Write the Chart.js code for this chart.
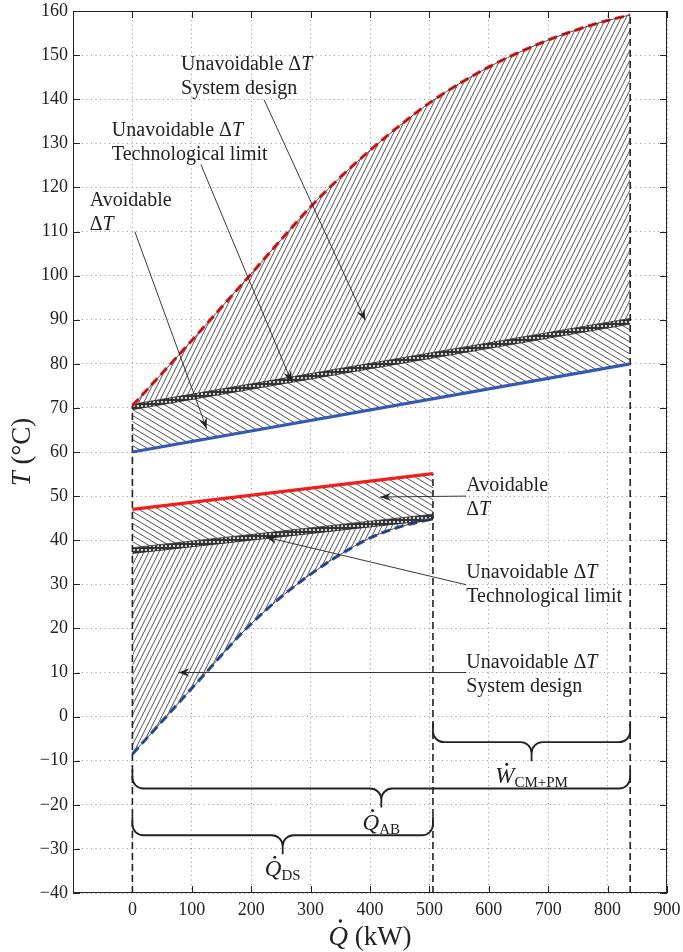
<!DOCTYPE html>
<html>
<head>
<meta charset="utf-8">
<script src="https://cdn.jsdelivr.net/npm/chart.js@4"></script>
<style>
  html, body { margin: 0; padding: 0; background: #fff; }
  #wrap { width: 683px; height: 952px; }
</style>
</head>
<body>
<div id="wrap"><canvas id="chart" width="683" height="952"></canvas></div>
<script>
// Hot stream (upper group): heat flow Q in kW, temperature in °C
const hotQ = [0, 80, 140, 200, 250, 300, 350, 400, 450, 505, 600, 700, 790, 838];
const hotSupplyT = [70.5, 82.3, 91.3, 100.4, 108.1, 115.6, 122.3, 128.4, 134, 139.6, 147.3, 153.4, 157.5, 159.1];
const hotEndQ = [0, 838];
const hotLimitUpperT = [70.8, 90.3];
const hotLimitLowerT = [69.6, 89.0];
const hotReturnT = [60, 80];

// Cold stream (lower group)
const coldEndQ = [0, 506];
const coldSupplyT = [47, 55.1];
const coldLimitUpperT = [38.3, 45.9];
const coldLimitLowerT = [37.0, 44.6];
const coldQ = [0, 57, 124, 192, 277, 388, 440, 506];
const coldReturnT = [-8.5, 0, 10, 20, 30, 39.7, 42.6, 44.9];

// vertical boundaries: Q = 0, Q_DS, Q_AB
const boundaryQ = [0, 506, 838];
const boundaryTopT = [70.5, 55.1, 159.1];

// axes
const xTicks = [0, 100, 200, 300, 400, 500, 600, 700, 800, 900];
const yTicks = [-40, -30, -20, -10, 0, 10, 20, 30, 40, 50, 60, 70, 80, 90, 100, 110, 120, 130, 140, 150, 160];

// braces under the curves: [from, to] in kW, top edge in °C, label
const braceSpans = [[506, 838], [0, 838], [0, 506]];
const braceTopT = [-1.5, -12, -22.6];
const braceLabels = [['W', 'CM+PM'], ['Q', 'AB'], ['Q', 'DS']];

// callouts: text lines (parts are [text, italic]), text anchor, arrow start and tip
const notes = [
  { lines: [[['Unavoidable Δ', 0], ['T', 1]], [['System design', 0]]], at: [82, 147.9], from: [221.6, 139.9], to: [392, 89.9] },
  { lines: [[['Unavoidable Δ', 0], ['T', 1]], [['Technological limit', 0]]], at: [-34.6, 132.9], from: [115.3, 125.2], to: [268, 75.9] },
  { lines: [[['Avoidable', 0]], [['Δ', 0], ['T', 1]]], at: [-71.8, 117], from: [4, 110], to: [125, 65.3] },
  { lines: [[['Avoidable', 0]], [['Δ', 0], ['T', 1]]], at: [562, 52.4], from: [562, 50], to: [417, 49.8] },
  { lines: [[['Unavoidable Δ', 0], ['T', 1]], [['Technological limit', 0]]], at: [562, 32.7], from: [562, 29.9], to: [224.5, 40.7] },
  { lines: [[['Unavoidable Δ', 0], ['T', 1]], [['System design', 0]]], at: [562, 12.2], from: [562, 10], to: [77.6, 10] }
];

const SERIF = '"Liberation Serif", "DejaVu Serif", serif';
const INK = '#222';

const pts = (xs, ys) => xs.map((x, i) => ({ x: x, y: ys[i] }));

// line hatching tile: dir > 0 gives "/", otherwise "\"
function hatch(w, h, dir) {
  const c = document.createElement('canvas');
  c.width = w; c.height = h;
  const g = c.getContext('2d');
  g.fillStyle = '#fff';
  g.fillRect(0, 0, w, h);
  g.strokeStyle = '#2a2a2a';
  g.lineWidth = 0.8;
  for (const ox of [-w, 0, w]) {
    for (const oy of [-h, 0, h]) {
      g.beginPath();
      if (dir > 0) { g.moveTo(ox, oy + h); g.lineTo(ox + w, oy); }
      else { g.moveTo(ox, oy); g.lineTo(ox + w, oy + h); }
      g.stroke();
    }
  }
  return g.createPattern(c, 'repeat');
}

// small white rings on dark, for the thin technological-limit strip
function chain() {
  const c = document.createElement('canvas');
  c.width = 4; c.height = 4;
  const g = c.getContext('2d');
  g.fillStyle = '#333';
  g.fillRect(0, 0, 4, 4);
  g.fillStyle = '#fff';
  g.beginPath();
  g.arc(2, 2, 1.1, 0, Math.PI * 2);
  g.fill();
  return g.createPattern(c, 'repeat');
}

const steep = hatch(5, 10, 1);
const shallow = hatch(10, 6, -1);
const strip = chain();

const RED = '#f21d1d';
const BLUE = '#3558b0';

const thin = { borderColor: INK, borderWidth: 0.8, fill: false };

const datasets = [
  // 0..4 hot side
  Object.assign({}, thin, { data: pts(hotQ, hotSupplyT), cubicInterpolationMode: 'monotone', fill: { target: 2 }, backgroundColor: steep }),
  { data: pts(hotQ, hotSupplyT), cubicInterpolationMode: 'monotone', borderColor: RED, borderWidth: 3.2, borderDash: [9, 5], fill: false },
  Object.assign({}, thin, { data: pts(hotEndQ, hotLimitUpperT), fill: { target: 3 }, backgroundColor: strip }),
  Object.assign({}, thin, { data: pts(hotEndQ, hotLimitLowerT), fill: { target: 4 }, backgroundColor: shallow }),
  { data: pts(hotEndQ, hotReturnT), borderColor: BLUE, borderWidth: 3.2, fill: false },
  // 5..9 cold side
  { data: pts(coldEndQ, coldSupplyT), borderColor: RED, borderWidth: 3.2, fill: { target: 6 }, backgroundColor: shallow },
  Object.assign({}, thin, { data: pts(coldEndQ, coldLimitUpperT), fill: { target: 7 }, backgroundColor: strip }),
  Object.assign({}, thin, { data: pts(coldEndQ, coldLimitLowerT), fill: { target: 8 }, backgroundColor: steep }),
  Object.assign({}, thin, { data: pts(coldQ, coldReturnT), cubicInterpolationMode: 'monotone' }),
  { data: pts(coldQ, coldReturnT), cubicInterpolationMode: 'monotone', borderColor: BLUE, borderWidth: 3.2, borderDash: [9, 5], fill: false }
];

// dashed vertical boundaries
boundaryQ.forEach((q, i) => {
  datasets.push({
    data: [{ x: q, y: -40 }, { x: q, y: boundaryTopT[i] }],
    borderColor: INK, borderWidth: 1.6, borderDash: [7, 4], fill: false
  });
});

function richText(ctx, x, y, parts, size) {
  let cx = x;
  for (const [t, it] of parts) {
    ctx.font = (it ? 'italic ' : '') + size + 'px ' + SERIF;
    ctx.fillText(t, cx, y);
    cx += ctx.measureText(t).width;
  }
  return cx - x;
}

function partsWidth(ctx, parts, size) {
  let w = 0;
  for (const [t, it] of parts) {
    ctx.font = (it ? 'italic ' : '') + size + 'px ' + SERIF;
    w += ctx.measureText(t).width;
  }
  return w;
}

function arrow(ctx, x0, y0, x1, y1) {
  ctx.beginPath();
  ctx.moveTo(x0, y0);
  ctx.lineTo(x1, y1);
  ctx.stroke();
  const a = Math.atan2(y1 - y0, x1 - x0);
  const L = 11, W = 4.2;
  ctx.save();
  ctx.translate(x1, y1);
  ctx.rotate(a);
  ctx.beginPath();
  ctx.moveTo(0, 0);
  ctx.lineTo(-L, -W);
  ctx.lineTo(-L * 0.65, 0);
  ctx.lineTo(-L, W);
  ctx.closePath();
  ctx.fill();
  ctx.restore();
}

function brace(ctx, xa, xb, yTop) {
  const xm = (xa + xb) / 2;
  const yH = yTop + 19, yTip = yTop + 38, r = 11;
  ctx.beginPath();
  ctx.moveTo(xa, yTop);
  ctx.lineTo(xa, yH - r);
  ctx.arcTo(xa, yH, xa + r, yH, r);
  ctx.lineTo(xm - r, yH);
  ctx.arcTo(xm, yH, xm, yH + r, r);
  ctx.lineTo(xm, yTip);
  ctx.moveTo(xb, yTop);
  ctx.lineTo(xb, yH - r);
  ctx.arcTo(xb, yH, xb - r, yH, r);
  ctx.lineTo(xm + r, yH);
  ctx.arcTo(xm, yH, xm, yH + r, r);
  ctx.stroke();
  return { xm: xm, yTip: yTip };
}

// italic letter with a dot above and an upright subscript, centred on cx
function dotted(ctx, cx, cy, letter, sub) {
  ctx.font = 'italic 23px ' + SERIF;
  const wl = ctx.measureText(letter).width;
  ctx.font = '15px ' + SERIF;
  const ws = ctx.measureText(sub).width;
  const x0 = cx - (wl + ws) / 2;
  ctx.textBaseline = 'alphabetic';
  ctx.font = 'italic 23px ' + SERIF;
  ctx.fillText(letter, x0, cy + 8);
  ctx.beginPath();
  ctx.arc(x0 + wl * 0.6, cy - 11, 1.5, 0, Math.PI * 2);
  ctx.fill();
  ctx.font = '15px ' + SERIF;
  ctx.fillText(sub, x0 + wl, cy + 12);
}

const overlay = {
  id: 'overlay',
  afterDraw(chart) {
    const { ctx, chartArea: a, scales: { x, y } } = chart;
    ctx.save();
    ctx.strokeStyle = INK;
    ctx.fillStyle = INK;

    // frame with inward ticks on all sides
    ctx.lineWidth = 1;
    ctx.strokeRect(a.left + 0.5, a.top + 0.5, a.right - a.left - 1, a.bottom - a.top - 1);
    ctx.beginPath();
    xTicks.forEach(v => {
      const px = Math.round(x.getPixelForValue(v)) + 0.5;
      ctx.moveTo(px, a.bottom); ctx.lineTo(px, a.bottom - 7);
      ctx.moveTo(px, a.top); ctx.lineTo(px, a.top + 7);
    });
    yTicks.forEach(v => {
      const py = Math.round(y.getPixelForValue(v)) + 0.5;
      ctx.moveTo(a.left, py); ctx.lineTo(a.left + 7, py);
      ctx.moveTo(a.right, py); ctx.lineTo(a.right - 7, py);
    });
    ctx.stroke();

    // braces and their labels
    ctx.lineWidth = 1.8;
    braceSpans.forEach((s, i) => {
      const b = brace(ctx, x.getPixelForValue(s[0]), x.getPixelForValue(s[1]), y.getPixelForValue(braceTopT[i]));
      dotted(ctx, b.xm, b.yTip + 14, braceLabels[i][0], braceLabels[i][1]);
    });

    // callouts
    ctx.lineWidth = 0.9;
    ctx.textBaseline = 'middle';
    notes.forEach(n => {
      arrow(ctx, x.getPixelForValue(n.from[0]), y.getPixelForValue(n.from[1]),
        x.getPixelForValue(n.to[0]), y.getPixelForValue(n.to[1]));
      const tx = x.getPixelForValue(n.at[0]);
      const ty = y.getPixelForValue(n.at[1]);
      n.lines.forEach((ln, k) => richText(ctx, tx, ty + k * 24, ln, 20));
    });

    // axis titles
    ctx.textBaseline = 'alphabetic';
    const xt = [['Q', 1], [' (kW)', 0]];
    const wx = partsWidth(ctx, xt, 27);
    const x0 = (a.left + a.right) / 2 - wx / 2;
    richText(ctx, x0, 945, xt, 27);
    ctx.beginPath();
    ctx.arc(x0 + 12, 921, 1.7, 0, Math.PI * 2);
    ctx.fill();

    ctx.translate(30, (a.top + a.bottom) / 2);
    ctx.rotate(-Math.PI / 2);
    const yt = [['T', 1], [' (°C)', 0]];
    const wy = partsWidth(ctx, yt, 27);
    richText(ctx, -wy / 2, 0, yt, 27);
    ctx.restore();
  }
};

new Chart(document.getElementById('chart'), {
  type: 'line',
  data: { datasets: datasets },
  options: {
    responsive: false,
    animation: false,
    devicePixelRatio: 1,
    layout: { padding: { top: 11, right: 16, left: 0, bottom: 0 } },
    elements: { point: { radius: 0, hoverRadius: 0 }, line: { tension: 0 } },
    plugins: {
      legend: { display: false },
      tooltip: { enabled: false },
      filler: { drawTime: 'beforeDatasetsDraw' }
    },
    scales: {
      x: {
        type: 'linear',
        min: -100,
        max: 900,
        afterFit: s => { s.height = 59; s.paddingLeft = 0; s.paddingRight = 0; },
        afterBuildTicks: s => { s.ticks = [-100].concat(xTicks).map(v => ({ value: v })); },
        ticks: {
          padding: 6,
          color: INK,
          font: { family: SERIF, size: 18 },
          maxRotation: 0,
          callback: v => (v < 0 ? '' : String(v))
        },
        grid: { color: '#8a8a8a', lineWidth: 0.9, drawTicks: false },
        border: { display: false, dash: [1, 3.5] }
      },
      y: {
        type: 'linear',
        min: -40,
        max: 160,
        afterFit: s => { s.width = 73; s.paddingTop = 0; s.paddingBottom = 0; },
        afterBuildTicks: s => { s.ticks = yTicks.map(v => ({ value: v })); },
        ticks: {
          padding: 5,
          color: INK,
          font: { family: SERIF, size: 18 },
          callback: v => String(v).replace('-', '\u2212')
        },
        grid: { color: '#8a8a8a', lineWidth: 0.9, drawTicks: false },
        border: { display: false, dash: [1, 3.5] }
      }
    }
  },
  plugins: [overlay]
});
</script>
</body>
</html>
